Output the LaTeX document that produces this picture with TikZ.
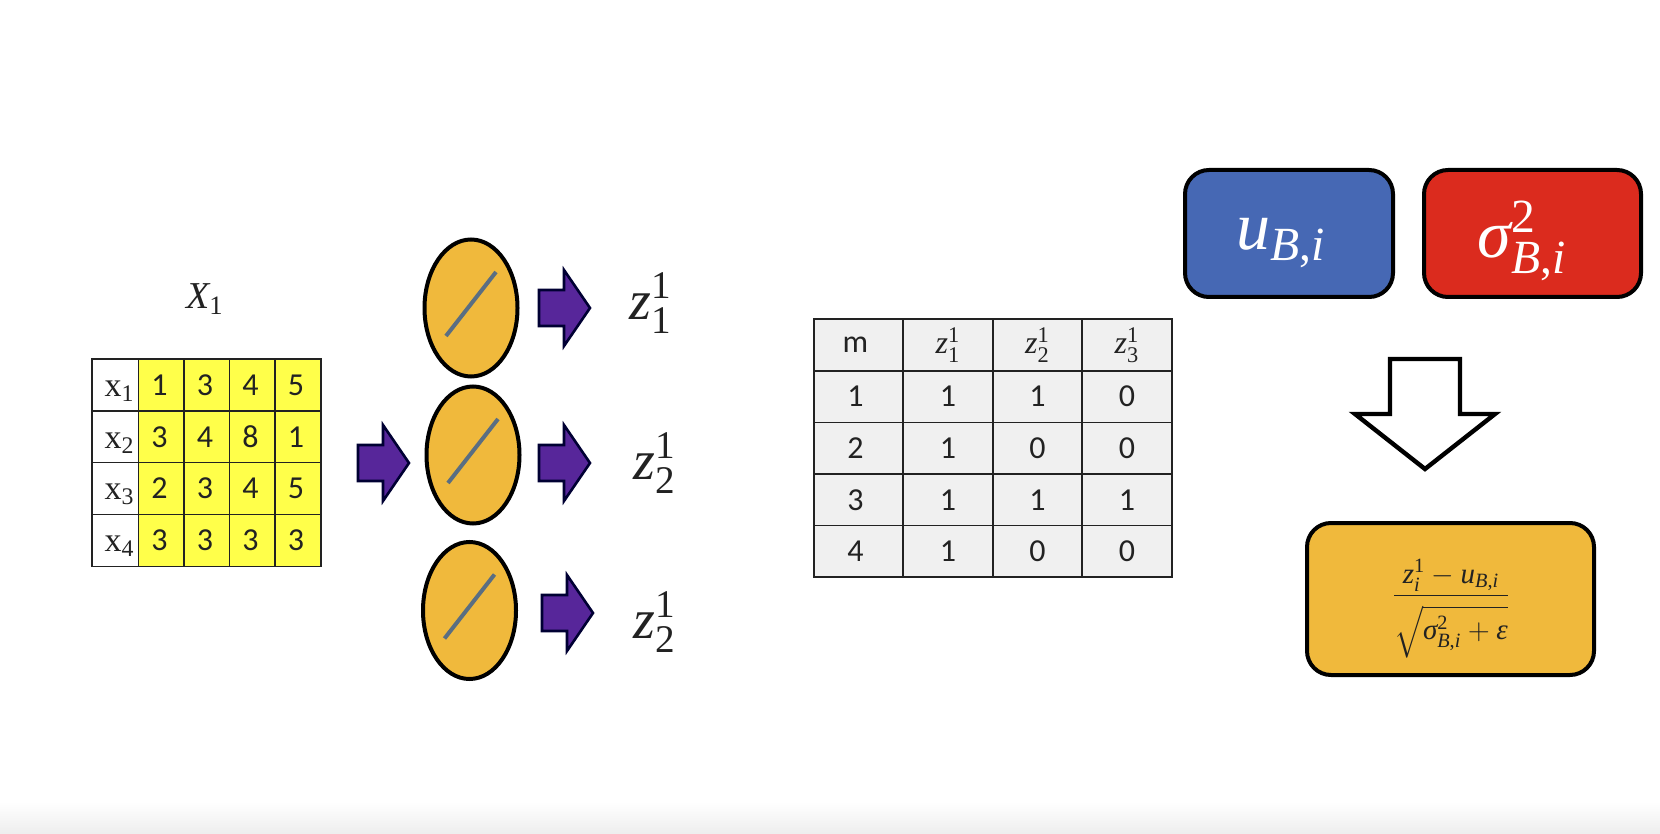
\documentclass[tikz,border=0pt]{standalone}
\usepackage{fix-cm}
\usepackage{amsmath}
\usepackage{fontspec}
\setmainfont{Carlito}
\newfontfamily\libser{Liberation Serif}
\newcommand{\mvar}[1]{\text{\libser\itshape #1}}
\newcommand{\mnum}[1]{\text{\libser #1}}
\newcommand{\Bi}{\mvar{B}\mnum{,}\mvar{i}}
\usetikzlibrary{shapes.geometric}
\definecolor{cellyellow}{HTML}{FFFF4A}
\definecolor{gold}{HTML}{F0B93C}
\definecolor{slashc}{HTML}{5A6E82}
\definecolor{arrowp}{HTML}{57269A}
\definecolor{boxblue}{HTML}{4668B4}
\definecolor{boxred}{HTML}{DB2B1E}
\definecolor{greycell}{HTML}{F0F0F0}
\definecolor{ink}{HTML}{222222}
\tikzset{
  cellbase/.style={draw=ink,line width=0.7pt,inner sep=0pt,text=ink,font=\fontsize{16}{18}\selectfont},
  ycell/.style={cellbase,fill=cellyellow,minimum width=22.9pt,minimum height=25.9pt},
  wcell/.style={cellbase,fill=white,minimum width=23.5pt,minimum height=25.9pt},
  celltext/.style={inner sep=0pt,text=ink,font=\fontsize{17}{19}\selectfont},
  gcell/.style={cellbase,fill=greycell,minimum width=44.7pt,minimum height=25.8pt,line width=0.8pt},
  neuron/.style={ellipse,draw=black,line width=2pt,fill=gold,minimum width=46.5pt,minimum height=68.5pt,inner sep=0pt},
  slash/.style={draw=slashc,line width=2pt},
  parrow/.style={draw=black!80!blue,line width=1.3pt,fill=arrowp,line join=miter},
  zlabel/.style={inner sep=0pt,text=ink,font=\fontsize{28}{31}\selectfont},
  rbox/.style={draw=black,line width=2pt,rounded corners=12pt,inner sep=0pt},
  downarrow/.style={draw=black,line width=2.2pt,fill=white,line join=miter}
}
\newcommand{\parrowat}[1]{\draw[parrow] (#1) ++(0,-18) -- ++(25,0) -- ++(0,-20) -- ++(26,38) -- ++(-26,38) -- ++(0,-20) -- ++(-25,0) -- cycle;}
\begin{document}
\begin{tikzpicture}[x=0.5pt,y=-0.5pt]
\useasboundingbox (0,0) rectangle (1660,834);
\shade[top color=white,bottom color=black!7,draw=none] (0,802) rectangle (1660,834);

% input label
\node[inner sep=0pt,text=ink,font=\fontsize{19}{22}\selectfont] (xlabel) at (205,299) {$\mvar{X}_{\mnum{1}}$};

% input table
\foreach \r/\lab/\a/\b/\c/\d in {1/1/1/3/4/5,2/2/3/4/8/1,3/3/2/3/4/5,4/4/3/3/3/3}{
  \pgfmathsetmacro{\yy}{385+(\r-1)*51.8}
  \node[wcell] (w\r) at (115.5,\yy) {};
  \node[celltext] (wt\r) at (119.5,\yy+6) {$\mnum{x}_{\mnum{\lab}}$};
  \node[ycell] (c\r a) at (161.5,\yy) {\hspace{-2pt}\raisebox{0pt}{\a}};
  \node[ycell] (c\r b) at (207,\yy) {\hspace{-2pt}\b};
  \node[ycell] (c\r c) at (252.5,\yy) {\hspace{-2pt}\c};
  \node[ycell] (c\r d) at (298,\yy) {\hspace{-2pt}\d};
}

% neurons
\node[neuron] (n1) at (471,308) {};
\node[neuron] (n2) at (473,455) {};
\node[neuron] (n3) at (469.5,610.5) {};
\foreach \n in {n1,n2,n3}{
  \draw[slash] (\n.center) ++(-25,28) -- ++(50,-64);
}

% purple arrows
\coordinate (a0) at (358,463);
\coordinate (a1) at (539,308);
\coordinate (a2) at (539,463);
\coordinate (a3) at (542,613);
\parrowat{a0}
\parrowat{a1}
\parrowat{a2}
\parrowat{a3}

% z labels
\node[zlabel] (z1) at (651,303) {$\mvar{z}_{\mnum{1}}^{\mnum{1}}$};
\node[zlabel] (z2) at (655,463) {$\mvar{z}_{\mnum{2}}^{\mnum{1}}$};
\node[zlabel] (z3) at (655,622) {$\mvar{z}_{\mnum{2}}^{\mnum{1}}$};

% second table
\foreach \r/\m/\a/\b/\c in {0/m/$\mvar{z}_{\mnum{1}}^{\mnum{1}}$/$\mvar{z}_{\mnum{2}}^{\mnum{1}}$/$\mvar{z}_{\mnum{3}}^{\mnum{1}}$,1/1/1/1/0,2/2/1/0/0,3/3/1/1/1,4/4/1/0/0}{
  \pgfmathsetmacro{\yy}{345+\r*51.6}
  \node[gcell] (t\r m) at (858.5,\yy) {\hspace{-3pt}\m};
  \node[gcell] (t\r a) at (948,\yy) {\a};
  \node[gcell] (t\r b) at (1037.5,\yy) {\b};
  \node[gcell] (t\r c) at (1127,\yy) {\c};
}

% right-hand boxes
\node[rbox,fill=boxblue,minimum width=104pt,minimum height=63.5pt] (mu) at (1289,233.5) {};
\node[rbox,fill=boxred,minimum width=108.5pt,minimum height=63.5pt] (sig) at (1532.5,233.5) {};
\node[inner sep=0pt,text=white,font=\fontsize{34}{38}\selectfont] (mutext) at (1281,243) {$\mvar{u}_{\Bi}$};
\node[inner sep=0pt,text=white,font=\fontsize{34}{38}\selectfont] (sigtext) at (1522,241) {$\mvar{σ}_{\Bi}^{\mnum{2}}$};
\draw[downarrow] (1390,359) -- (1460,359) -- (1460,414) -- (1495,414) -- (1425,469) -- (1355,414) -- (1390,414) -- cycle;
\node[rbox,fill=gold,minimum width=143.5pt,minimum height=76pt] (norm) at (1450.5,599) {};
\node[inner sep=0pt,text=ink,font=\fontsize{14.5}{18}\selectfont] (normtext) at (1451,609) {$\dfrac{\mvar{z}_{\mvar{i}}^{\mnum{1}}-\mvar{u}_{\Bi}}{\rule{0pt}{20pt}\sqrt{\mvar{σ}_{\Bi}^{\mnum{2}}+\mvar{ε}}}$};
\end{tikzpicture}
\end{document}
